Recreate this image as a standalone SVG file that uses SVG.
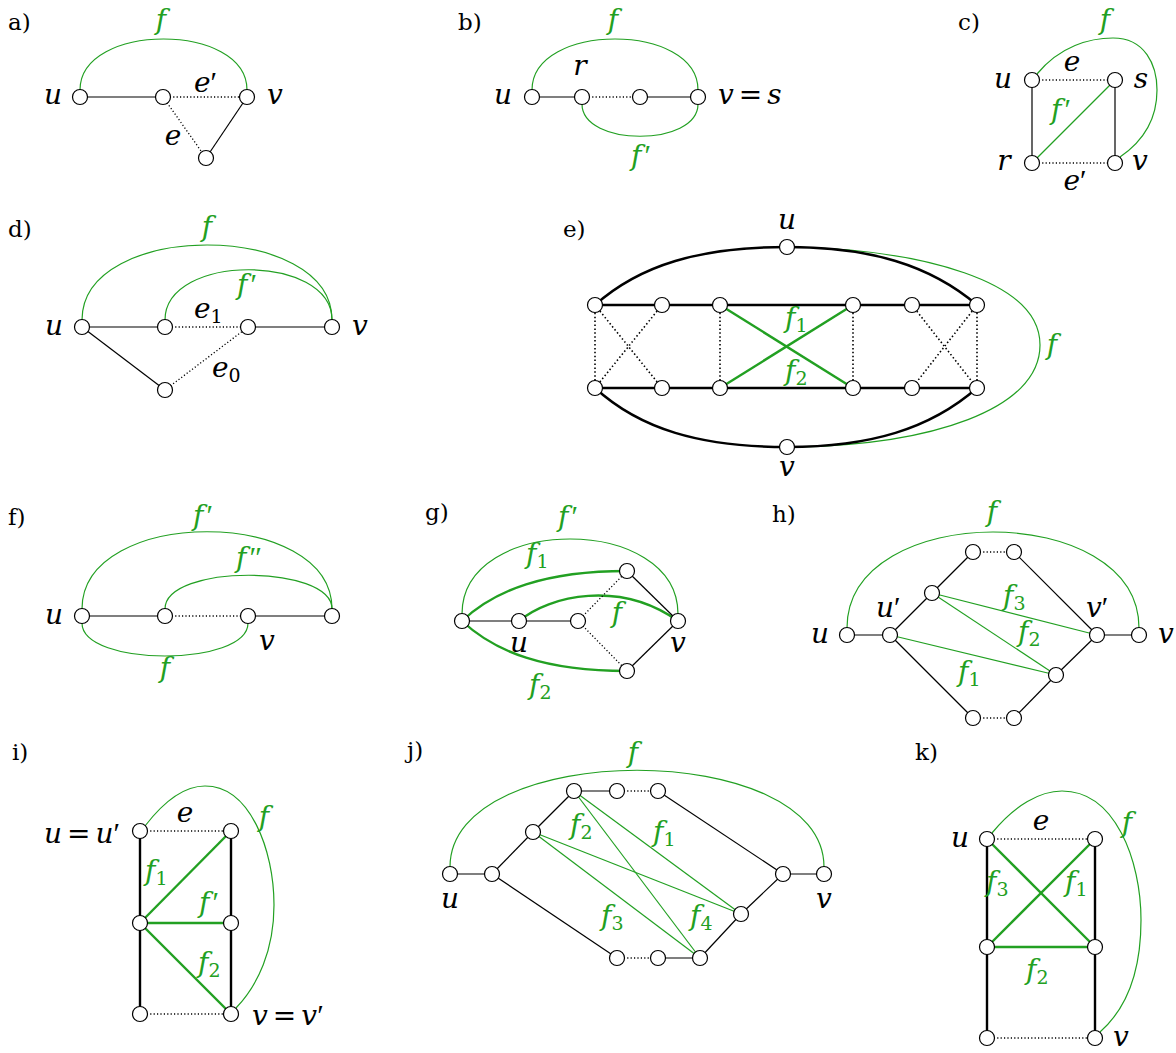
<svg xmlns="http://www.w3.org/2000/svg" width="1176" height="1053" viewBox="0 0 1176 1053">
<style>
.bg{fill:#fff}
.e{fill:none;stroke:#000;stroke-width:1.2}
.ek{fill:none;stroke:#000;stroke-width:2.4}
.d{fill:none;stroke:#000;stroke-width:1.3;stroke-dasharray:1.2 2.2}
.dk{fill:none;stroke:#000;stroke-width:1.6;stroke-dasharray:1.5 2.4}
.g{fill:none;stroke:#22a022;stroke-width:1.2}
.gk{fill:none;stroke:#22a022;stroke-width:2.4}
.n{fill:#fff;stroke:#000;stroke-width:1.2}
.lab{font-family:"DejaVu Serif","Liberation Serif",serif;font-size:23px;fill:#000}
.m{font-family:"DejaVu Serif","Liberation Serif",serif;font-style:italic;font-size:28px;fill:#000}
.gt{fill:#22a022}
.s{font-style:normal;font-size:19px}
.up{font-style:normal}
.pr{font-family:"Liberation Serif",serif;font-style:normal;font-size:30px}
</style>
<rect class="bg" x="0" y="0" width="1176" height="1053"/>

<!-- Panel a -->
<g id="panel-a">
<text class="lab" x="8" y="30">a)</text>
<g id="a-connectors">
<path class="g" d="M80,90 C80,22 247,22 247,90"/>
<line class="e" x1="80" y1="97" x2="163" y2="97"/>
<line class="d" x1="163" y1="97" x2="247" y2="97"/>
<line class="d" x1="163" y1="97" x2="206" y2="158"/>
<line class="e" x1="206" y1="158" x2="247" y2="97"/>
<text class="m gt" x="161" y="29" text-anchor="middle">f</text>
<text class="m" x="194" y="92">e<tspan class="pr">′</tspan></text>
<text class="m" x="173" y="145" text-anchor="middle">e</text>
</g>
<g id="a-u"><circle class="n" cx="80" cy="97" r="7.5"/><text class="m" x="53" y="104" text-anchor="middle">u</text></g>
<g id="a-w"><circle class="n" cx="163" cy="97" r="7.5"/></g>
<g id="a-v"><circle class="n" cx="247" cy="97" r="7.5"/><text class="m" x="275" y="104" text-anchor="middle">v</text></g>
<g id="a-x"><circle class="n" cx="206" cy="158" r="7.5"/></g>
</g>

<!-- Panel b -->
<g id="panel-b">
<text class="lab" x="458" y="30">b)</text>
<g id="b-connectors">
<path class="g" d="M532,90 C532,22 698,22 698,90"/>
<path class="g" d="M582,104 C582,147 698,147 698,104"/>
<line class="e" x1="532" y1="97" x2="582" y2="97"/>
<line class="d" x1="582" y1="97" x2="640" y2="97"/>
<line class="e" x1="640" y1="97" x2="698" y2="97"/>
<text class="m gt" x="613" y="29" text-anchor="middle">f</text>
<text class="m gt" x="641" y="165" text-anchor="middle">f<tspan class="pr" dx="3">′</tspan></text>
</g>
<g id="b-u"><circle class="n" cx="532" cy="97" r="7.5"/><text class="m" x="503" y="104" text-anchor="middle">u</text></g>
<g id="b-r"><circle class="n" cx="582" cy="97" r="7.5"/><text class="m" x="580" y="75" text-anchor="middle">r</text></g>
<g id="b-w"><circle class="n" cx="640" cy="97" r="7.5"/></g>
<g id="b-v"><circle class="n" cx="698" cy="97" r="7.5"/><text class="m" x="718" y="104">v<tspan class="up" dx="5">=</tspan><tspan dx="5">s</tspan></text></g>
</g>

<!-- Panel c -->
<g id="panel-c">
<text class="lab" x="958" y="30">c)</text>
<g id="c-connectors">
<path class="g" d="M1037,74 C1060,46 1090,38 1113,38 C1145,38 1157,65 1157,90 C1157,120 1142,142 1120,157"/>
<line class="d" x1="1032" y1="80" x2="1115" y2="80"/>
<line class="e" x1="1032" y1="80" x2="1032" y2="163"/>
<line class="e" x1="1115" y1="80" x2="1115" y2="163"/>
<line class="d" x1="1032" y1="163" x2="1115" y2="163"/>
<line class="g" x1="1032" y1="163" x2="1115" y2="80"/>
<text class="m gt" x="1105" y="29" text-anchor="middle">f</text>
<text class="m" x="1072" y="71" text-anchor="middle">e</text>
<text class="m gt" x="1061" y="119" text-anchor="middle">f<tspan class="pr" dx="3">′</tspan></text>
<text class="m" x="1075" y="190" text-anchor="middle">e<tspan class="pr">′</tspan></text>
</g>
<g id="c-u"><circle class="n" cx="1032" cy="80" r="7.5"/><text class="m" x="1003" y="88" text-anchor="middle">u</text></g>
<g id="c-s"><circle class="n" cx="1115" cy="80" r="7.5"/><text class="m" x="1141" y="88" text-anchor="middle">s</text></g>
<g id="c-r"><circle class="n" cx="1032" cy="163" r="7.5"/><text class="m" x="1004" y="170" text-anchor="middle">r</text></g>
<g id="c-v"><circle class="n" cx="1115" cy="163" r="7.5"/><text class="m" x="1140" y="170" text-anchor="middle">v</text></g>
</g>

<!-- Panel d -->
<g id="panel-d">
<text class="lab" x="8" y="237">d)</text>
<g id="d-connectors">
<path class="g" d="M82,320 C82,220 332,220 332,320"/>
<path class="g" d="M165,320 C165,253 332,253 332,320"/>
<line class="e" x1="82" y1="327" x2="165" y2="327"/>
<line class="d" x1="165" y1="327" x2="248" y2="327"/>
<line class="e" x1="248" y1="327" x2="332" y2="327"/>
<line class="e" x1="82" y1="327" x2="165" y2="390"/>
<line class="d" x1="165" y1="390" x2="248" y2="327"/>
<text class="m gt" x="207" y="236" text-anchor="middle">f</text>
<text class="m gt" x="247" y="294" text-anchor="middle">f<tspan class="pr" dx="3">′</tspan></text>
<text class="m" x="194" y="318">e<tspan class="s" dy="5">1</tspan></text>
<text class="m" x="212" y="377">e<tspan class="s" dy="5">0</tspan></text>
</g>
<g id="d-u"><circle class="n" cx="82" cy="327" r="7.5"/><text class="m" x="54" y="335" text-anchor="middle">u</text></g>
<g id="d-w1"><circle class="n" cx="165" cy="327" r="7.5"/></g>
<g id="d-w2"><circle class="n" cx="248" cy="327" r="7.5"/></g>
<g id="d-v"><circle class="n" cx="332" cy="327" r="7.5"/><text class="m" x="360" y="335" text-anchor="middle">v</text></g>
<g id="d-x"><circle class="n" cx="165" cy="390" r="7.5"/></g>
</g>

<!-- Panel e -->
<g id="panel-e">
<text class="lab" x="563" y="237">e)</text>
<g id="e-connectors">
<path class="g" d="M794,247 C920,250 1040,280 1040,345 C1040,410 930,445 794,447"/>
<path class="ek" d="M787,247 C700,247 640,265 595,305"/>
<path class="ek" d="M787,247 C870,247 930,265 977,305"/>
<path class="ek" d="M787,447 C700,447 640,429 595,388"/>
<path class="ek" d="M787,447 C870,447 930,429 977,388"/>
<path class="ek" d="M595,305 H977 M595,388 H977"/>
<line class="dk" x1="595" y1="305" x2="595" y2="388"/>
<line class="dk" x1="595" y1="305" x2="662" y2="388"/>
<line class="dk" x1="662" y1="305" x2="595" y2="388"/>
<line class="dk" x1="720" y1="305" x2="720" y2="388"/>
<line class="dk" x1="853" y1="305" x2="853" y2="388"/>
<line class="dk" x1="912" y1="305" x2="977" y2="388"/>
<line class="dk" x1="977" y1="305" x2="912" y2="388"/>
<line class="dk" x1="977" y1="305" x2="977" y2="388"/>
<line class="gk" x1="720" y1="305" x2="853" y2="388"/>
<line class="gk" x1="853" y1="305" x2="720" y2="388"/>
<text class="m gt" x="785" y="327">f<tspan class="s" dy="5">1</tspan></text>
<text class="m gt" x="785" y="380">f<tspan class="s" dy="5">2</tspan></text>
<text class="m gt" x="1052" y="354" text-anchor="middle">f</text>
</g>
<g id="e-u"><circle class="n" cx="787" cy="247" r="7.5"/><text class="m" x="787" y="229" text-anchor="middle">u</text></g>
<g id="e-v"><circle class="n" cx="787" cy="447" r="7.5"/><text class="m" x="787" y="476" text-anchor="middle">v</text></g>
<g id="e-t1"><circle class="n" cx="595" cy="305" r="7.5"/></g>
<g id="e-t2"><circle class="n" cx="662" cy="305" r="7.5"/></g>
<g id="e-t3"><circle class="n" cx="720" cy="305" r="7.5"/></g>
<g id="e-t4"><circle class="n" cx="853" cy="305" r="7.5"/></g>
<g id="e-t5"><circle class="n" cx="912" cy="305" r="7.5"/></g>
<g id="e-t6"><circle class="n" cx="977" cy="305" r="7.5"/></g>
<g id="e-b1"><circle class="n" cx="595" cy="388" r="7.5"/></g>
<g id="e-b2"><circle class="n" cx="662" cy="388" r="7.5"/></g>
<g id="e-b3"><circle class="n" cx="720" cy="388" r="7.5"/></g>
<g id="e-b4"><circle class="n" cx="853" cy="388" r="7.5"/></g>
<g id="e-b5"><circle class="n" cx="912" cy="388" r="7.5"/></g>
<g id="e-b6"><circle class="n" cx="977" cy="388" r="7.5"/></g>
</g>

<!-- Panel f -->
<g id="panel-f">
<text class="lab" x="8" y="525">f)</text>
<g id="f-connectors">
<path class="g" d="M82,609 C82,506 332,506 332,609"/>
<path class="g" d="M165,609 C165,564 332,564 332,609"/>
<path class="g" d="M82,623 C82,667 248,667 248,623"/>
<line class="e" x1="82" y1="616" x2="165" y2="616"/>
<line class="d" x1="165" y1="616" x2="248" y2="616"/>
<line class="e" x1="248" y1="616" x2="332" y2="616"/>
<text class="m gt" x="203" y="525" text-anchor="middle">f<tspan class="pr" dx="3">′</tspan></text>
<text class="m gt" x="249" y="567" text-anchor="middle">f<tspan class="pr" dx="3">″</tspan></text>
<text class="m gt" x="165" y="677" text-anchor="middle">f</text>
</g>
<g id="f-u"><circle class="n" cx="82" cy="616" r="7.5"/><text class="m" x="54" y="624" text-anchor="middle">u</text></g>
<g id="f-w1"><circle class="n" cx="165" cy="616" r="7.5"/></g>
<g id="f-v"><circle class="n" cx="248" cy="616" r="7.5"/><text class="m" x="267" y="650" text-anchor="middle">v</text></g>
<g id="f-w2"><circle class="n" cx="332" cy="616" r="7.5"/></g>
</g>

<!-- Panel g -->
<g id="panel-g">
<text class="lab" x="425" y="520">g)</text>
<g id="g-connectors">
<path class="g" d="M462,614 C462,514 678,514 678,614"/>
<path class="gk" d="M462,621 C495,590 545,571 627,571"/>
<path class="gk" d="M519,621 C550,595 620,580 678,621"/>
<path class="gk" d="M462,621 C495,652 545,671 627,671"/>
<line class="e" x1="462" y1="621" x2="519" y2="621"/>
<line class="e" x1="519" y1="621" x2="578" y2="621"/>
<line class="d" x1="578" y1="621" x2="627" y2="571"/>
<line class="d" x1="578" y1="621" x2="627" y2="671"/>
<line class="e" x1="627" y1="571" x2="678" y2="621"/>
<line class="e" x1="627" y1="671" x2="678" y2="621"/>
<text class="m gt" x="568" y="526" text-anchor="middle">f<tspan class="pr" dx="3">′</tspan></text>
<text class="m gt" x="526" y="563">f<tspan class="s" dy="5">1</tspan></text>
<text class="m gt" x="617" y="622" text-anchor="middle">f</text>
<text class="m gt" x="529" y="694">f<tspan class="s" dy="5">2</tspan></text>
</g>
<g id="g-w"><circle class="n" cx="462" cy="621" r="7.5"/></g>
<g id="g-u"><circle class="n" cx="519" cy="621" r="7.5"/><text class="m" x="519" y="652" text-anchor="middle">u</text></g>
<g id="g-x"><circle class="n" cx="578" cy="621" r="7.5"/></g>
<g id="g-t"><circle class="n" cx="627" cy="571" r="7.5"/></g>
<g id="g-b"><circle class="n" cx="627" cy="671" r="7.5"/></g>
<g id="g-v"><circle class="n" cx="678" cy="621" r="7.5"/><text class="m" x="678" y="652" text-anchor="middle">v</text></g>
</g>

<!-- Panel h -->
<g id="panel-h">
<text class="lab" x="772" y="522">h)</text>
<g id="h-connectors">
<path class="g" d="M847,628 C847,500 1139,500 1139,628"/>
<line class="e" x1="847" y1="635" x2="890" y2="635"/>
<line class="e" x1="890" y1="635" x2="932" y2="593"/>
<line class="e" x1="932" y1="593" x2="973" y2="552"/>
<line class="d" x1="973" y1="552" x2="1014" y2="552"/>
<line class="e" x1="1014" y1="552" x2="1097" y2="635"/>
<line class="e" x1="1097" y1="635" x2="1139" y2="635"/>
<line class="e" x1="890" y1="635" x2="973" y2="718"/>
<line class="d" x1="973" y1="718" x2="1014" y2="718"/>
<line class="e" x1="1014" y1="718" x2="1056" y2="675"/>
<line class="e" x1="1056" y1="675" x2="1097" y2="635"/>
<line class="g" x1="932" y1="593" x2="1097" y2="635"/>
<line class="g" x1="932" y1="593" x2="1056" y2="675"/>
<line class="g" x1="890" y1="635" x2="1056" y2="675"/>
<text class="m gt" x="992" y="521" text-anchor="middle">f</text>
<text class="m gt" x="1003" y="605">f<tspan class="s" dy="5">3</tspan></text>
<text class="m gt" x="1018" y="641">f<tspan class="s" dy="5">2</tspan></text>
<text class="m gt" x="958" y="681">f<tspan class="s" dy="5">1</tspan></text>
</g>
<g id="h-u"><circle class="n" cx="847" cy="635" r="7.5"/><text class="m" x="820" y="643" text-anchor="middle">u</text></g>
<g id="h-u2"><circle class="n" cx="890" cy="635" r="7.5"/><text class="m" x="876" y="617">u<tspan class="pr">′</tspan></text></g>
<g id="h-a"><circle class="n" cx="932" cy="593" r="7.5"/></g>
<g id="h-tl"><circle class="n" cx="973" cy="552" r="7.5"/></g>
<g id="h-tr"><circle class="n" cx="1014" cy="552" r="7.5"/></g>
<g id="h-v2"><circle class="n" cx="1097" cy="635" r="7.5"/><text class="m" x="1086" y="617">v<tspan class="pr">′</tspan></text></g>
<g id="h-v"><circle class="n" cx="1139" cy="635" r="7.5"/><text class="m" x="1166" y="643" text-anchor="middle">v</text></g>
<g id="h-b"><circle class="n" cx="1056" cy="675" r="7.5"/></g>
<g id="h-bl"><circle class="n" cx="973" cy="718" r="7.5"/></g>
<g id="h-br"><circle class="n" cx="1014" cy="718" r="7.5"/></g>
</g>

<!-- Panel i -->
<g id="panel-i">
<text class="lab" x="12" y="760">i)</text>
<g id="i-connectors">
<path class="g" d="M145,826 C165,800 185,786 205,786 C250,786 274,850 274,905 C274,950 258,985 236,1008"/>
<line class="d" x1="140" y1="831" x2="231" y2="831"/>
<line class="ek" x1="140" y1="831" x2="140" y2="1014"/>
<line class="ek" x1="231" y1="831" x2="231" y2="1014"/>
<line class="d" x1="140" y1="1014" x2="231" y2="1014"/>
<line class="gk" x1="140" y1="923" x2="231" y2="831"/>
<line class="gk" x1="140" y1="923" x2="231" y2="923"/>
<line class="gk" x1="140" y1="923" x2="231" y2="1014"/>
<text class="m" x="185" y="822" text-anchor="middle">e</text>
<text class="m gt" x="264" y="826" text-anchor="middle">f</text>
<text class="m gt" x="145" y="880">f<tspan class="s" dy="5">1</tspan></text>
<text class="m gt" x="199" y="912">f<tspan class="pr" dx="3">′</tspan></text>
<text class="m gt" x="198" y="972">f<tspan class="s" dy="5">2</tspan></text>
</g>
<g id="i-u"><circle class="n" cx="140" cy="831" r="7.5"/><text class="m" x="44" y="843">u<tspan class="up" dx="5">=</tspan><tspan dx="5">u</tspan><tspan class="pr">′</tspan></text></g>
<g id="i-tr"><circle class="n" cx="231" cy="831" r="7.5"/></g>
<g id="i-ml"><circle class="n" cx="140" cy="923" r="7.5"/></g>
<g id="i-mr"><circle class="n" cx="231" cy="923" r="7.5"/></g>
<g id="i-bl"><circle class="n" cx="140" cy="1014" r="7.5"/></g>
<g id="i-v"><circle class="n" cx="231" cy="1014" r="7.5"/><text class="m" x="252" y="1025">v<tspan class="up" dx="5">=</tspan><tspan dx="5">v</tspan><tspan class="pr">′</tspan></text></g>
</g>

<!-- Panel j -->
<g id="panel-j">
<text class="lab" x="407" y="758">j)</text>
<g id="j-connectors">
<path class="g" d="M450,867 C450,738 824,738 824,867"/>
<line class="e" x1="450" y1="874" x2="492" y2="874"/>
<line class="e" x1="492" y1="874" x2="533" y2="832"/>
<line class="e" x1="533" y1="832" x2="574" y2="791"/>
<line class="e" x1="574" y1="791" x2="617" y2="791"/>
<line class="d" x1="617" y1="791" x2="658" y2="791"/>
<line class="e" x1="658" y1="791" x2="783" y2="874"/>
<line class="e" x1="783" y1="874" x2="824" y2="874"/>
<line class="e" x1="492" y1="874" x2="617" y2="958"/>
<line class="d" x1="617" y1="958" x2="658" y2="958"/>
<line class="e" x1="658" y1="958" x2="700" y2="958"/>
<line class="e" x1="700" y1="958" x2="741" y2="914"/>
<line class="e" x1="741" y1="914" x2="783" y2="874"/>
<line class="g" x1="574" y1="791" x2="741" y2="914"/>
<line class="g" x1="574" y1="791" x2="700" y2="958"/>
<line class="g" x1="533" y1="832" x2="741" y2="914"/>
<line class="g" x1="533" y1="832" x2="700" y2="958"/>
<text class="m gt" x="633" y="762" text-anchor="middle">f</text>
<text class="m gt" x="570" y="834">f<tspan class="s" dy="5">2</tspan></text>
<text class="m gt" x="653" y="841">f<tspan class="s" dy="5">1</tspan></text>
<text class="m gt" x="601" y="925">f<tspan class="s" dy="5">3</tspan></text>
<text class="m gt" x="690" y="925">f<tspan class="s" dy="5">4</tspan></text>
</g>
<g id="j-u"><circle class="n" cx="450" cy="874" r="7.5"/><text class="m" x="450" y="908" text-anchor="middle">u</text></g>
<g id="j-a"><circle class="n" cx="492" cy="874" r="7.5"/></g>
<g id="j-b"><circle class="n" cx="533" cy="832" r="7.5"/></g>
<g id="j-c"><circle class="n" cx="574" cy="791" r="7.5"/></g>
<g id="j-d"><circle class="n" cx="617" cy="791" r="7.5"/></g>
<g id="j-e"><circle class="n" cx="658" cy="791" r="7.5"/></g>
<g id="j-v2"><circle class="n" cx="783" cy="874" r="7.5"/></g>
<g id="j-v"><circle class="n" cx="824" cy="874" r="7.5"/><text class="m" x="824" y="908" text-anchor="middle">v</text></g>
<g id="j-g"><circle class="n" cx="741" cy="914" r="7.5"/></g>
<g id="j-h"><circle class="n" cx="700" cy="958" r="7.5"/></g>
<g id="j-i"><circle class="n" cx="658" cy="958" r="7.5"/></g>
<g id="j-j"><circle class="n" cx="617" cy="958" r="7.5"/></g>
</g>

<!-- Panel k -->
<g id="panel-k">
<text class="lab" x="915" y="760">k)</text>
<g id="k-connectors">
<path class="g" d="M992,833 C1015,805 1040,791 1062,791 C1115,791 1141,860 1141,920 C1141,975 1125,1010 1100,1032"/>
<line class="d" x1="987" y1="839" x2="1095" y2="839"/>
<line class="ek" x1="987" y1="839" x2="987" y2="1038"/>
<line class="ek" x1="1095" y1="839" x2="1095" y2="1038"/>
<line class="d" x1="987" y1="1038" x2="1095" y2="1038"/>
<line class="gk" x1="987" y1="839" x2="1095" y2="947"/>
<line class="gk" x1="1095" y1="839" x2="987" y2="947"/>
<line class="gk" x1="987" y1="947" x2="1095" y2="947"/>
<text class="m" x="1041" y="830" text-anchor="middle">e</text>
<text class="m gt" x="1127" y="832" text-anchor="middle">f</text>
<text class="m gt" x="986" y="891">f<tspan class="s" dy="5">3</tspan></text>
<text class="m gt" x="1065" y="891">f<tspan class="s" dy="5">1</tspan></text>
<text class="m gt" x="1026" y="979">f<tspan class="s" dy="5">2</tspan></text>
</g>
<g id="k-u"><circle class="n" cx="987" cy="839" r="7.5"/><text class="m" x="960" y="847" text-anchor="middle">u</text></g>
<g id="k-tr"><circle class="n" cx="1095" cy="839" r="7.5"/></g>
<g id="k-ml"><circle class="n" cx="987" cy="947" r="7.5"/></g>
<g id="k-mr"><circle class="n" cx="1095" cy="947" r="7.5"/></g>
<g id="k-bl"><circle class="n" cx="987" cy="1038" r="7.5"/></g>
<g id="k-v"><circle class="n" cx="1095" cy="1038" r="7.5"/><text class="m" x="1121" y="1046" text-anchor="middle">v</text></g>
</g>
</svg>
